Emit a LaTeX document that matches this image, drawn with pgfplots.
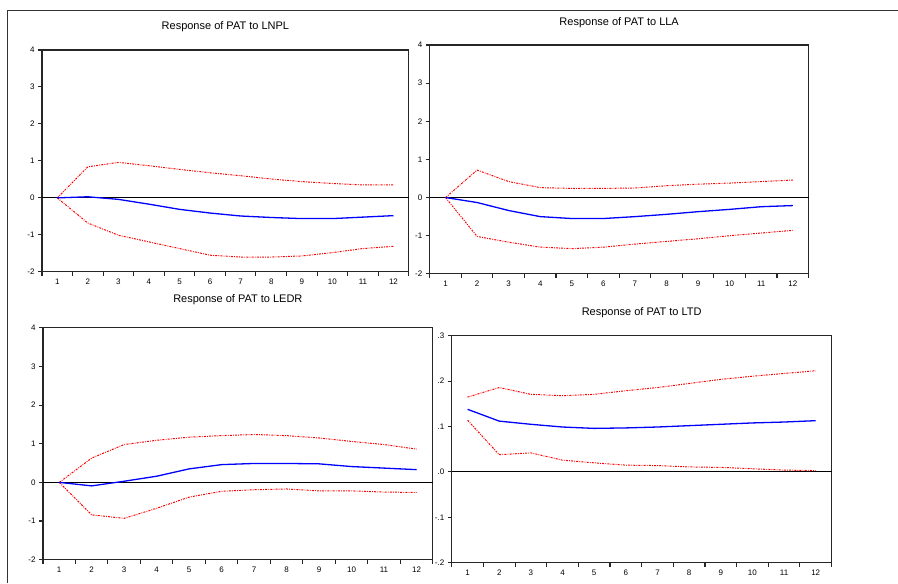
\documentclass[border=0pt]{standalone}
\usepackage{fontspec}
\setmainfont{Liberation Sans}
\usepackage{pgfplots}
\pgfplotsset{compat=1.18}
\definecolor{irfblue}{HTML}{0000FF}
\definecolor{irfred}{HTML}{FF0000}

\pgfplotsset{
  irf/.style={
    scale only axis,
    anchor=south west,
    xmin=0.5, xmax=12.5,
    xtick={1,...,12},
    xticklabels={1,2,3,4,5,6,7,8,9,10,11,12},
    minor xtick={0.5,1.5,...,12.5},
    major x tick style={draw=none},
    tick align=outside,
    xtick pos=bottom, ytick pos=left,
    major tick length=4pt, minor tick length=4pt,
    axis line style={line width=1.1pt, black!85},
    every tick/.style={line width=1.1pt, black!85},
    tick label style={font=\fontsize{8}{9}\selectfont},
    /pgf/number format/assume math mode=true,
    title style={font=\fontsize{11}{12}\selectfont, at={(0.5,1)}, anchor=center},
    clip=false,
  },
  resp/.style={irfblue, line width=1.3pt},
  band/.style={irfred, line width=1pt, dash pattern=on 2pt off 1.2pt on 0.8pt off 1.2pt},
  zero/.style={black, line width=1pt},
}

\begin{document}
\begin{tikzpicture}[x=1pt,y=1pt]
\path (0,0) rectangle (898,583);
\draw[line width=1pt, black!80] (8,0) -- (8,572) -- (898,572);

% Response of PAT to LNPL
\begin{axis}[irf, at={(42pt,311pt)}, width=367pt, height=222pt,
  ymin=-2, ymax=4, ytick={-2,...,4}, yticklabels={-2,-1,0,1,2,3,4},
  title={Response of PAT to LNPL}, title style={yshift=17pt}]
\addplot[zero] coordinates {(0.5,0) (12.5,0)};
\addplot[band] coordinates {(1,0)(2,0.84)(3,0.96)(4,0.87)(5,0.77)(6,0.68)(7,0.60)(8,0.51)(9,0.44)(10,0.39)(11,0.35)(12,0.35)};
\addplot[band] coordinates {(1,0)(2,-0.68)(3,-1.01)(4,-1.19)(5,-1.37)(6,-1.55)(7,-1.60)(8,-1.60)(9,-1.57)(10,-1.48)(11,-1.37)(12,-1.31)};
\addplot[resp] coordinates {(1,0)(2,0.03)(3,-0.04)(4,-0.17)(5,-0.31)(6,-0.41)(7,-0.49)(8,-0.53)(9,-0.56)(10,-0.56)(11,-0.52)(12,-0.48)};
\end{axis}

% Response of PAT to LLA
\begin{axis}[irf, at={(430pt,309pt)}, width=379pt, height=229pt,
  ymin=-2, ymax=4, ytick={-2,...,4}, yticklabels={-2,-1,0,1,2,3,4},
  title={Response of PAT to LLA}, title style={yshift=16pt}]
\addplot[zero] coordinates {(0.5,0) (12.5,0)};
\addplot[band] coordinates {(1,0)(2,0.72)(3,0.42)(4,0.26)(5,0.24)(6,0.24)(7,0.25)(8,0.31)(9,0.35)(10,0.38)(11,0.42)(12,0.46)};
\addplot[band] coordinates {(1,0)(2,-1.02)(3,-1.17)(4,-1.30)(5,-1.34)(6,-1.30)(7,-1.22)(8,-1.15)(9,-1.08)(10,-1.00)(11,-0.93)(12,-0.86)};
\addplot[resp] coordinates {(1,0)(2,-0.13)(3,-0.34)(4,-0.50)(5,-0.55)(6,-0.55)(7,-0.50)(8,-0.44)(9,-0.37)(10,-0.31)(11,-0.24)(12,-0.21)};
\end{axis}

% Response of PAT to LEDR
\begin{axis}[irf, at={(43pt,23pt)}, width=390pt, height=232pt,
  ymin=-2, ymax=4, ytick={-2,...,4}, yticklabels={-2,-1,0,1,2,3,4},
  title={Response of PAT to LEDR}, title style={yshift=22pt}]
\addplot[zero] coordinates {(0.5,0) (12.5,0)};
\addplot[band] coordinates {(1,0)(2,0.63)(3,0.98)(4,1.09)(5,1.17)(6,1.21)(7,1.24)(8,1.21)(9,1.15)(10,1.06)(11,0.98)(12,0.86)};
\addplot[band] coordinates {(1,0)(2,-0.84)(3,-0.93)(4,-0.67)(5,-0.38)(6,-0.23)(7,-0.19)(8,-0.17)(9,-0.22)(10,-0.22)(11,-0.25)(12,-0.26)};
\addplot[resp] coordinates {(1,0)(2,-0.09)(3,0.03)(4,0.16)(5,0.35)(6,0.46)(7,0.49)(8,0.49)(9,0.48)(10,0.41)(11,0.37)(12,0.33)};
\end{axis}

% Response of PAT to LTD
\begin{axis}[irf, at={(452pt,20pt)}, width=380pt, height=227pt,
  ymin=-0.2, ymax=0.3, ytick={-0.2,-0.1,0,0.1,0.2,0.3}, yticklabels={-.2,-.1,.0,.1,.2,.3},
  title={Response of PAT to LTD}, title style={yshift=17pt}]
\addplot[zero] coordinates {(0.5,0) (12.5,0)};
\addplot[band] coordinates {(1,0.165)(2,0.186)(3,0.171)(4,0.168)(5,0.171)(6,0.179)(7,0.186)(8,0.195)(9,0.204)(10,0.211)(11,0.217)(12,0.223)};
\addplot[band] coordinates {(1,0.114)(2,0.038)(3,0.042)(4,0.026)(5,0.020)(6,0.015)(7,0.014)(8,0.011)(9,0.010)(10,0.007)(11,0.004)(12,0.003)};
\addplot[resp] coordinates {(1,0.138)(2,0.112)(3,0.105)(4,0.099)(5,0.096)(6,0.097)(7,0.099)(8,0.102)(9,0.105)(10,0.108)(11,0.110)(12,0.113)};
\end{axis}
\end{tikzpicture}
\end{document}
